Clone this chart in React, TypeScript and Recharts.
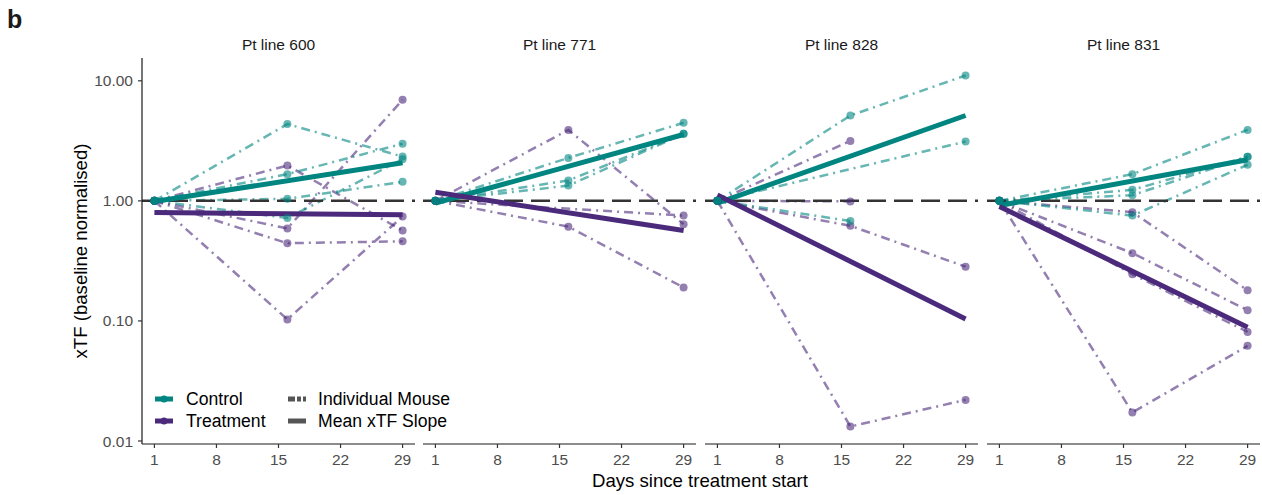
import React from 'react';
import { LineChart, Line, XAxis, YAxis, ReferenceLine } from 'recharts';

// sampling days and axis ticks
const days = [1, 16, 29];
const xTicks = [1, 8, 15, 22, 29];
const yTicks = [0.01, 0.1, 1, 10];
const panelTitles = ['Pt line 600', 'Pt line 771', 'Pt line 828', 'Pt line 831'];

// xTF per mouse at days 1, 16, 29 (null = not measured)
const control600 = [
  [1, 4.36, 2.34],
  [1, 1.67, 2.99],
  [1, 1.04, 1.44],
  [1, 0.72, 2.22],
];
const treatment600 = [
  [1, 1.97, 0.566],
  [1, 0.59, 6.95],
  [1, 0.444, 0.46],
  [1, 0.103, 0.74],
];
const controlMean600 = [0.987, null, 2.08];
const treatmentMean600 = [0.8, null, 0.765];

const control771 = [
  [1, 2.28, 4.47],
  [1, 1.48, 3.62],
  [1, 1.34, 3.62],
];
const treatment771 = [
  [1, 3.9, 0.64],
  [1, 0.61, 0.19],
  [1, null, 0.754],
];
const controlMean771 = [0.96, null, 3.57];
const treatmentMean771 = [1.18, null, 0.566];

const control828 = [
  [1, 5.14, 11.07],
  [1, null, 3.12],
  [1, 0.68, null],
];
const treatment828 = [
  [1, 3.16, null],
  [1, 0.99, null],
  [1, 0.62, 0.283],
  [1, 0.0132, 0.022],
];
const controlMean828 = [0.957, null, 5.14];
const treatmentMean828 = [1.12, null, 0.104];

const control831 = [
  [1, 1.67, 3.9],
  [1, 1.235, 2.33],
  [1, 1.115, 2.33],
  [1, 0.754, 2.0],
];
const treatment831 = [
  [1, 0.805, 0.18],
  [1, 0.367, 0.123],
  [1, 0.245, 0.081],
  [1, 0.0173, 0.062],
];
const controlMean831 = [0.914, null, 2.2];
const treatmentMean831 = [0.897, null, 0.0886];

const TEAL = '#008580';
const PURPLE = '#4B2A7B';
const FONT = '"Liberation Sans", Arial, sans-serif';

const PLOT_TOP = 58;
const PLOT_BOTTOM = 444;
const PLOT_W = 273;
const panelLefts = [142, 423, 705, 987];

function buildRows(control, treatment, cMean, tMean) {
  return days.map((day, i) => {
    const row: any = { day, cMean: cMean[i], tMean: tMean[i] };
    control.forEach((m, j) => (row[`c${j}`] = m[i]));
    treatment.forEach((m, j) => (row[`t${j}`] = m[i]));
    return row;
  });
}

const panels = [
  { title: panelTitles[0], control: control600, treatment: treatment600, rows: buildRows(control600, treatment600, controlMean600, treatmentMean600) },
  { title: panelTitles[1], control: control771, treatment: treatment771, rows: buildRows(control771, treatment771, controlMean771, treatmentMean771) },
  { title: panelTitles[2], control: control828, treatment: treatment828, rows: buildRows(control828, treatment828, controlMean828, treatmentMean828) },
  { title: panelTitles[3], control: control831, treatment: treatment831, rows: buildRows(control831, treatment831, controlMean831, treatmentMean831) },
];

function mouseLine(key: string, color: string) {
  return (
    <Line
      key={key}
      type="linear"
      dataKey={key}
      stroke={color}
      strokeOpacity={0.6}
      strokeWidth={2.5}
      strokeDasharray="9 5 2 5"
      dot={{ r: 4, fill: color, fillOpacity: 0.6, stroke: 'none', strokeWidth: 0 }}
      activeDot={false}
      connectNulls
      isAnimationActive={false}
    />
  );
}

function Panel({ index }: { index: number }) {
  const p = panels[index];
  const first = index === 0;
  const yAxisW = first ? panelLefts[0] : 0;
  return (
    <div style={{ position: 'absolute', left: panelLefts[index] - yAxisW, top: 0 }}>
      <LineChart
        width={PLOT_W + yAxisW}
        height={495}
        data={p.rows}
        margin={{ top: PLOT_TOP, right: 0, bottom: 0, left: 0 }}
      >
        <XAxis
          type="number"
          dataKey="day"
          domain={[-0.4, 30.4]}
          ticks={xTicks}
          allowDataOverflow
          height={495 - PLOT_BOTTOM}
          tickSize={4}
          tickMargin={6}
          axisLine={{ stroke: '#1a1a1a', strokeWidth: 1.2 }}
          tickLine={{ stroke: '#333333', strokeWidth: 1.2 }}
          tick={{ fill: '#4D4D4D', fontSize: 15.5, fontFamily: FONT }}
        />
        <YAxis
          scale="log"
          domain={[Math.pow(10, -2.025), Math.pow(10, 1.19)]}
          allowDataOverflow
          ticks={yTicks}
          hide={!first}
          width={yAxisW}
          tickSize={4}
          tickMargin={5}
          tickFormatter={(v) => Number(v).toFixed(2)}
          axisLine={{ stroke: '#1a1a1a', strokeWidth: 1.2 }}
          tickLine={{ stroke: '#333333', strokeWidth: 1.2 }}
          tick={{ fill: '#4D4D4D', fontSize: 15.5, fontFamily: FONT }}
        />
        {p.treatment.map((_, j) => mouseLine(`t${j}`, PURPLE))}
        {p.control.map((_, j) => mouseLine(`c${j}`, TEAL))}
        <ReferenceLine y={1} stroke="#333333" strokeWidth={2.5} strokeDasharray="19 8" />
        <Line
          type="linear"
          dataKey="cMean"
          stroke={TEAL}
          strokeWidth={5}
          dot={false}
          activeDot={false}
          connectNulls
          isAnimationActive={false}
        />
        <Line
          type="linear"
          dataKey="tMean"
          stroke={PURPLE}
          strokeWidth={5}
          dot={false}
          activeDot={false}
          connectNulls
          isAnimationActive={false}
        />
      </LineChart>
    </div>
  );
}

function Overlay() {
  const text = { fontFamily: FONT, fill: '#1a1a1a' };
  return (
    <svg
      width={1262}
      height={495}
      style={{ position: 'absolute', left: 0, top: 0, pointerEvents: 'none' }}
    >
      <text x={7} y={28} fontSize={25} fontWeight="bold" style={text}>
        b
      </text>
      {panels.map((p, i) => (
        <text
          key={p.title}
          x={panelLefts[i] + PLOT_W / 2}
          y={44}
          textAnchor="middle"
          dominantBaseline="central"
          fontSize={15.5}
          style={text}
        >
          {p.title}
        </text>
      ))}
      <text
        x={80}
        y={251}
        transform="rotate(-90 80 251)"
        textAnchor="middle"
        dominantBaseline="central"
        fontSize={18.6}
        style={{ ...text, fill: '#000' }}
      >
        xTF (baseline normalised)
      </text>
      <text
        x={700}
        y={480}
        textAnchor="middle"
        dominantBaseline="central"
        fontSize={18.6}
        style={{ ...text, fill: '#000' }}
      >
        Days since treatment start
      </text>
      {/* legend */}
      <g>
        <line x1={155} x2={173} y1={399} y2={399} stroke={TEAL} strokeWidth={5} />
        <circle cx={164} cy={399} r={3.5} fill={TEAL} />
        <text x={186} y={399} dominantBaseline="central" fontSize={17.6} style={{ ...text, fill: '#000' }}>
          Control
        </text>
        <line x1={155} x2={173} y1={421} y2={421} stroke={PURPLE} strokeWidth={5} />
        <circle cx={164} cy={421} r={3.5} fill={PURPLE} />
        <text x={186} y={421} dominantBaseline="central" fontSize={17.6} style={{ ...text, fill: '#000' }}>
          Treatment
        </text>
        <line x1={288} x2={306} y1={399} y2={399} stroke="#555555" strokeWidth={5} strokeDasharray="7 2 4 2" />
        <text x={318} y={399} dominantBaseline="central" fontSize={17.6} style={{ ...text, fill: '#000' }}>
          Individual Mouse
        </text>
        <line x1={288} x2={306} y1={421} y2={421} stroke="#555555" strokeWidth={5} />
        <text x={318} y={421} dominantBaseline="central" fontSize={17.6} style={{ ...text, fill: '#000' }}>
          Mean xTF Slope
        </text>
      </g>
    </svg>
  );
}

export default function App() {
  return (
    <div
      style={{
        position: 'absolute',
        left: 0,
        top: 0,
        width: 1262,
        height: 495,
        background: '#ffffff',
        fontFamily: FONT,
      }}
    >
      {panels.map((_, i) => (
        <Panel key={i} index={i} />
      ))}
      <Overlay />
    </div>
  );
}
